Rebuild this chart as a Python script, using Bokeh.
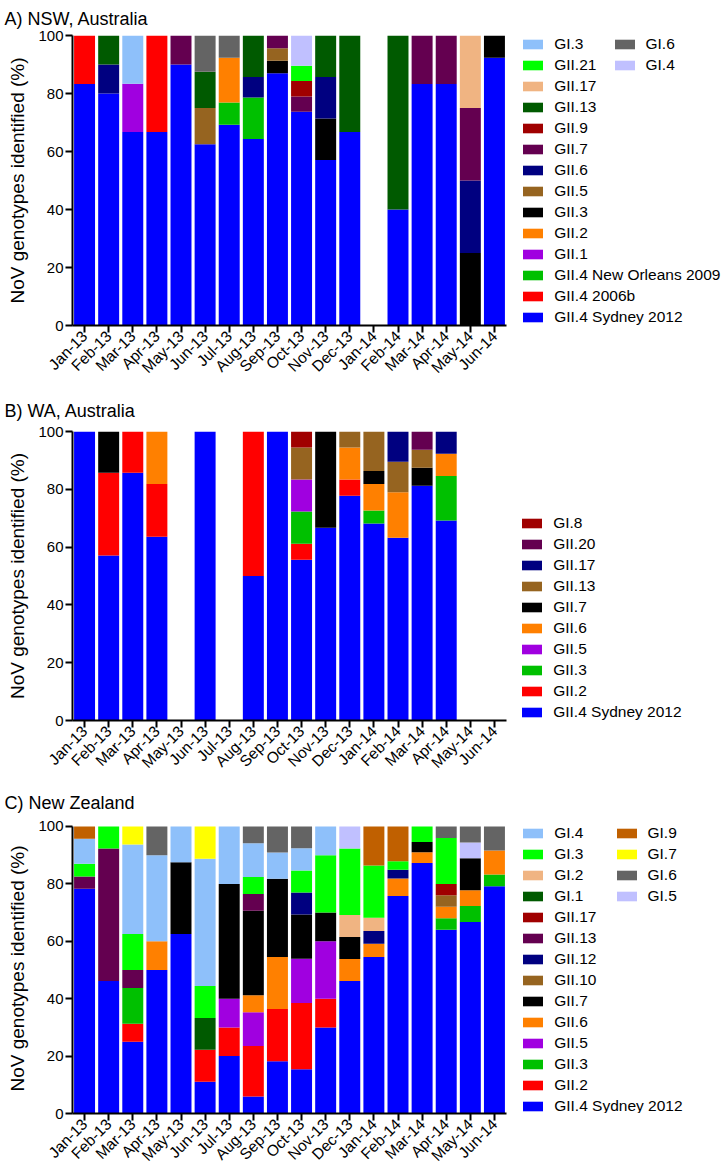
from bokeh.plotting import figure
from bokeh.models import (ColumnDataSource, Range1d, Legend, LegendItem, Title,
                          FixedTicker)
from bokeh.layouts import column
from bokeh.embed import file_html
from bokeh.resources import INLINE

months = ["Jan-13", "Feb-13", "Mar-13", "Apr-13", "May-13", "Jun-13", "Jul-13",
          "Aug-13", "Sep-13", "Oct-13", "Nov-13", "Dec-13", "Jan-14", "Feb-14",
          "Mar-14", "Apr-14", "May-14", "Jun-14"]
y_ticks = [0, 20, 40, 60, 80, 100]

# ---------------- A) NSW, Australia (% of genotypes per month) ----------------
nsw_gii4_sydney = [83.3, 80, 66.7, 66.7, 90, 62.5, 69.2, 64.3, 87.0, 73.7, 57.1, 66.7, 0, 40, 83.3, 83.3, 0, 92.3]
nsw_gii4_2006b  = [16.7, 0, 0, 33.3, 0, 0, 0, 0, 0, 0, 0, 0, 0, 0, 0, 0, 0, 0]
nsw_gii4_no2009 = [0, 0, 0, 0, 0, 0, 7.7, 14.3, 0, 0, 0, 0, 0, 0, 0, 0, 0, 0]
nsw_gii1  = [0, 0, 16.7, 0, 0, 0, 0, 0, 0, 0, 0, 0, 0, 0, 0, 0, 0, 0]
nsw_gii2  = [0, 0, 0, 0, 0, 0, 15.4, 0, 0, 0, 0, 0, 0, 0, 0, 0, 0, 0]
nsw_gii3  = [0, 0, 0, 0, 0, 0, 0, 0, 4.3, 0, 14.3, 0, 0, 0, 0, 0, 25, 7.7]
nsw_gii5  = [0, 0, 0, 0, 0, 12.5, 0, 0, 4.3, 0, 0, 0, 0, 0, 0, 0, 0, 0]
nsw_gii6  = [0, 10, 0, 0, 0, 0, 0, 7.1, 0, 0, 14.3, 0, 0, 0, 0, 0, 25, 0]
nsw_gii7  = [0, 0, 0, 0, 10, 0, 0, 0, 4.4, 5.3, 0, 0, 0, 0, 16.7, 16.7, 25, 0]
nsw_gii9  = [0, 0, 0, 0, 0, 0, 0, 0, 0, 5.3, 0, 0, 0, 0, 0, 0, 0, 0]
nsw_gii13 = [0, 10, 0, 0, 0, 12.5, 0, 14.3, 0, 0, 14.3, 33.3, 0, 60, 0, 0, 0, 0]
nsw_gii17 = [0, 0, 0, 0, 0, 0, 0, 0, 0, 0, 0, 0, 0, 0, 0, 0, 25, 0]
nsw_gii21 = [0, 0, 0, 0, 0, 0, 0, 0, 0, 5.3, 0, 0, 0, 0, 0, 0, 0, 0]
nsw_gi3   = [0, 0, 16.6, 0, 0, 0, 0, 0, 0, 0, 0, 0, 0, 0, 0, 0, 0, 0]
nsw_gi4   = [0, 0, 0, 0, 0, 0, 0, 0, 0, 10.4, 0, 0, 0, 0, 0, 0, 0, 0]
nsw_gi6   = [0, 0, 0, 0, 0, 12.5, 7.7, 0, 0, 0, 0, 0, 0, 0, 0, 0, 0, 0]

# ---------------- B) WA, Australia ----------------
wa_gii4_sydney = [100, 57.1, 85.7, 63.6, 0, 100, 0, 50, 100, 55.6, 66.7, 77.8, 68.2, 63.2, 81.2, 69.2, 0, 0]
wa_gii2  = [0, 28.6, 14.3, 18.2, 0, 0, 0, 50, 0, 5.6, 0, 5.6, 0, 0, 0, 0, 0, 0]
wa_gii3  = [0, 0, 0, 0, 0, 0, 0, 0, 0, 11.1, 0, 0, 4.5, 0, 0, 15.4, 0, 0]
wa_gii5  = [0, 0, 0, 0, 0, 0, 0, 0, 0, 11.1, 0, 0, 0, 0, 0, 0, 0, 0]
wa_gii6  = [0, 0, 0, 18.2, 0, 0, 0, 0, 0, 0, 0, 11.1, 9.1, 15.8, 0, 7.7, 0, 0]
wa_gii7  = [0, 14.3, 0, 0, 0, 0, 0, 0, 0, 0, 33.3, 0, 4.5, 0, 6.3, 0, 0, 0]
wa_gii13 = [0, 0, 0, 0, 0, 0, 0, 0, 0, 11.1, 0, 5.5, 13.7, 10.5, 6.2, 0, 0, 0]
wa_gii17 = [0, 0, 0, 0, 0, 0, 0, 0, 0, 0, 0, 0, 0, 10.5, 0, 7.7, 0, 0]
wa_gii20 = [0, 0, 0, 0, 0, 0, 0, 0, 0, 0, 0, 0, 0, 0, 6.3, 0, 0, 0]
wa_gi8   = [0, 0, 0, 0, 0, 0, 0, 0, 0, 5.5, 0, 0, 0, 0, 0, 0, 0, 0]

# ---------------- C) New Zealand ----------------
nz_gii4_sydney = [78.3, 46.2, 25, 50, 62.5, 11.1, 20, 5.9, 18.2, 15.4, 30, 46.2, 54.5, 75.8, 87.3, 64, 66.7, 79.2]
nz_gii2  = [0, 0, 6.25, 0, 0, 11.1, 10, 17.6, 18.2, 23.1, 10, 0, 0, 0, 0, 0, 0, 0]
nz_gii3  = [0, 0, 12.5, 0, 0, 0, 0, 0, 0, 0, 0, 0, 0, 0, 0, 4, 5.6, 4.1]
nz_gii5  = [0, 0, 0, 0, 0, 0, 10, 11.8, 0, 15.4, 20, 0, 0, 0, 0, 0, 0, 0]
nz_gii6  = [0, 0, 0, 10, 0, 0, 0, 5.9, 18.1, 0, 0, 7.6, 4.6, 6.1, 3.7, 4, 5.5, 8.3]
nz_gii7  = [0, 0, 0, 0, 25, 0, 40, 29.4, 27.3, 15.4, 10, 7.7, 0, 0, 3.6, 0, 11.1, 0]
nz_gii10 = [0, 0, 0, 0, 0, 0, 0, 0, 0, 0, 0, 0, 0, 0, 0, 4, 0, 0]
nz_gii12 = [0, 0, 0, 0, 0, 0, 0, 0, 0, 7.7, 0, 0, 4.5, 3.0, 0, 0, 0, 0]
nz_gii13 = [4.3, 46.1, 6.25, 0, 0, 0, 0, 5.9, 0, 0, 0, 0, 0, 0, 0, 0, 0, 0]
nz_gii17 = [0, 0, 0, 0, 0, 0, 0, 0, 0, 0, 0, 0, 0, 0, 0, 4, 0, 0]
nz_gi1   = [0, 0, 0, 0, 0, 11.1, 0, 0, 0, 0, 0, 0, 0, 0, 0, 0, 0, 0]
nz_gi2   = [0, 0, 0, 0, 0, 0, 0, 0, 0, 0, 0, 7.7, 4.6, 0, 0, 0, 0, 0]
nz_gi3   = [4.4, 7.7, 12.5, 0, 0, 11.1, 0, 5.9, 0, 7.7, 20, 23.1, 18.2, 3.0, 5.4, 16, 0, 0]
nz_gi4   = [8.7, 0, 31.25, 30, 12.5, 44.4, 20, 11.8, 9.1, 7.7, 10, 0, 0, 0, 0, 0, 0, 0]
nz_gi5   = [0, 0, 0, 0, 0, 0, 0, 0, 0, 0, 0, 7.7, 0, 0, 0, 0, 5.5, 0]
nz_gi6   = [0, 0, 0, 10, 0, 0, 0, 5.8, 9.1, 7.6, 0, 0, 0, 0, 0, 4, 5.6, 8.4]
nz_gi7   = [0, 0, 6.25, 0, 0, 11.2, 0, 0, 0, 0, 0, 0, 0, 0, 0, 0, 0, 0]
nz_gi9   = [4.3, 0, 0, 0, 0, 0, 0, 0, 0, 0, 0, 0, 13.6, 12.1, 0, 0, 0, 0]

# colours
C_BLUE = "#0000FF"; C_RED = "#FF0000"; C_GREEN = "#00C000"; C_PURPLE = "#A000E0"
C_ORANGE = "#FF8000"; C_BLACK = "#000000"; C_BROWN = "#966420"; C_NAVY = "#000080"
C_DPURPLE = "#640050"; C_DRED = "#A00000"; C_DGREEN = "#005A00"; C_TAN = "#F0B482"
C_LIME = "#00FF00"; C_LBLUE = "#8EC0FA"; C_LAV = "#C0C0FF"; C_GRAY = "#646464"
C_YELLOW = "#FFFF00"; C_OBROWN = "#C06000"

FONT = "Liberation Sans"
FIG_W = 725
BORDER_L = 72
CAT_PX = 434 / 18.0          # pixels per month slot
PCT_PX = 2.89                # pixels per percentage point
month_pos = list(range(1, len(months) + 1))


def make_panel(title, series, legend_cols, height, btop, bbottom, title_standoff,
               extra_top_px=0):
    data = {"pos": month_pos}
    names, colors = [], []
    for name, vals, col in series:
        data[name] = vals
        names.append(name)
        colors.append(col)
    src = ColumnDataSource(data)
    frame_w = FIG_W - BORDER_L
    p = figure(x_range=Range1d(0.5, 0.5 + frame_w / CAT_PX),
               y_range=Range1d(0, 100 + extra_top_px / PCT_PX),
               width=FIG_W, height=height, output_backend="svg", toolbar_location=None,
               min_border_left=BORDER_L, min_border_right=0, min_border_top=btop,
               min_border_bottom=bbottom, outline_line_color=None)
    p.title = Title(text=title, align="left", offset=-68, text_font=FONT,
                    text_font_size="18px", text_font_style="normal",
                    text_color="black", vertical_align="top",
                    standoff=title_standoff)
    rends = p.vbar_stack(names, x="pos", width=0.87, fill_color=colors,
                         line_color=None, source=src)
    rmap = dict(zip(names, rends))
    p.xgrid.visible = False
    p.ygrid.visible = False
    for ax in (p.xaxis[0], p.yaxis[0]):
        ax.axis_line_width = 2
        ax.major_tick_line_width = 2
        ax.major_tick_in = 0
        ax.major_tick_out = 7
        ax.minor_tick_line_color = None
        ax.major_label_text_font = FONT
        ax.major_label_text_font_size = "15px"
        ax.major_label_text_color = "black"
    p.xaxis.major_label_text_font_size = "15.5px"
    p.yaxis.ticker = FixedTicker(ticks=y_ticks)
    p.yaxis.bounds = (0, 100)
    p.yaxis.major_label_standoff = 2
    p.yaxis.axis_label = "NoV genotypes identified (%)"
    p.yaxis.axis_label_text_font = FONT
    p.yaxis.axis_label_text_font_size = "19px"
    p.yaxis.axis_label_text_font_style = "normal"
    p.yaxis.axis_label_text_color = "black"
    p.yaxis.axis_label_standoff = 7
    p.xaxis.ticker = FixedTicker(ticks=month_pos)
    p.xaxis.major_label_overrides = {k: m for k, m in zip(month_pos, months)}
    p.xaxis.bounds = (0.5, len(months) + 0.5)
    p.xaxis.major_label_orientation = 0.785398
    p.xaxis.major_label_standoff = 1
    for labels, loc in legend_cols:
        items = [LegendItem(label=n, renderers=[rmap[n]]) for n in labels]
        lg = Legend(items=items, location=loc, orientation="vertical", padding=0,
                    margin=0, spacing=0, glyph_width=25, glyph_height=12,
                    label_height=21, label_standoff=9, label_text_font=FONT,
                    label_text_font_size="15.5px", label_text_color="black",
                    border_line_color=None, background_fill_alpha=0)
        p.add_layout(lg)
    return p


pA = make_panel(
    "A) NSW, Australia",
    [("GII.4 Sydney 2012", nsw_gii4_sydney, C_BLUE),
     ("GII.4 2006b", nsw_gii4_2006b, C_RED),
     ("GII.4 New Orleans 2009", nsw_gii4_no2009, C_GREEN),
     ("GII.1", nsw_gii1, C_PURPLE),
     ("GII.2", nsw_gii2, C_ORANGE),
     ("GII.3", nsw_gii3, C_BLACK),
     ("GII.5", nsw_gii5, C_BROWN),
     ("GII.6", nsw_gii6, C_NAVY),
     ("GII.7", nsw_gii7, C_DPURPLE),
     ("GII.9", nsw_gii9, C_DRED),
     ("GII.13", nsw_gii13, C_DGREEN),
     ("GII.17", nsw_gii17, C_TAN),
     ("GII.21", nsw_gii21, C_LIME),
     ("GI.3", nsw_gi3, C_LBLUE),
     ("GI.4", nsw_gi4, C_LAV),
     ("GI.6", nsw_gi6, C_GRAY)],
    [(["GI.3", "GII.21", "GII.17", "GII.13", "GII.9", "GII.7", "GII.6", "GII.5",
       "GII.3", "GII.2", "GII.1", "GII.4 New Orleans 2009", "GII.4 2006b",
       "GII.4 Sydney 2012"], (448.2, -2)),
     (["GI.6", "GI.4"], (539.5, 250))],
    385, 35, 60, 10)

pB = make_panel(
    "B) WA, Australia",
    [("GII.4 Sydney 2012", wa_gii4_sydney, C_BLUE),
     ("GII.2", wa_gii2, C_RED),
     ("GII.3", wa_gii3, C_GREEN),
     ("GII.5", wa_gii5, C_PURPLE),
     ("GII.6", wa_gii6, C_ORANGE),
     ("GII.7", wa_gii7, C_BLACK),
     ("GII.13", wa_gii13, C_BROWN),
     ("GII.17", wa_gii17, C_NAVY),
     ("GII.20", wa_gii20, C_DPURPLE),
     ("GI.8", wa_gi8, C_DRED)],
    [(["GI.8", "GII.20", "GII.17", "GII.13", "GII.7", "GII.6", "GII.5", "GII.3",
       "GII.2", "GII.4 Sydney 2012"], (447.2, -2))],
    395, 46, 60, 18)

pC = make_panel(
    "C) New Zealand",
    [("GII.4 Sydney 2012", nz_gii4_sydney, C_BLUE),
     ("GII.2", nz_gii2, C_RED),
     ("GII.3", nz_gii3, C_GREEN),
     ("GII.5", nz_gii5, C_PURPLE),
     ("GII.6", nz_gii6, C_ORANGE),
     ("GII.7", nz_gii7, C_BLACK),
     ("GII.10", nz_gii10, C_BROWN),
     ("GII.12", nz_gii12, C_NAVY),
     ("GII.13", nz_gii13, C_DPURPLE),
     ("GII.17", nz_gii17, C_DRED),
     ("GI.1", nz_gi1, C_DGREEN),
     ("GI.2", nz_gi2, C_TAN),
     ("GI.3", nz_gi3, C_LIME),
     ("GI.4", nz_gi4, C_LBLUE),
     ("GI.5", nz_gi5, C_LAV),
     ("GI.6", nz_gi6, C_GRAY),
     ("GI.7", nz_gi7, C_YELLOW),
     ("GI.9", nz_gi9, C_OBROWN)],
    [(["GI.4", "GI.3", "GI.2", "GI.1", "GII.17", "GII.13", "GII.12", "GII.10",
       "GII.7", "GII.6", "GII.5", "GII.3", "GII.2", "GII.4 Sydney 2012"], (448.2, -3.5)),
     (["GI.9", "GI.7", "GI.6", "GI.5"], (541.5, 206.5))],
    393, 43, 58, 17, extra_top_px=3)

layout = column(pA, pB, pC, spacing=0)
open("out.html", "w").write(file_html(layout, INLINE))
